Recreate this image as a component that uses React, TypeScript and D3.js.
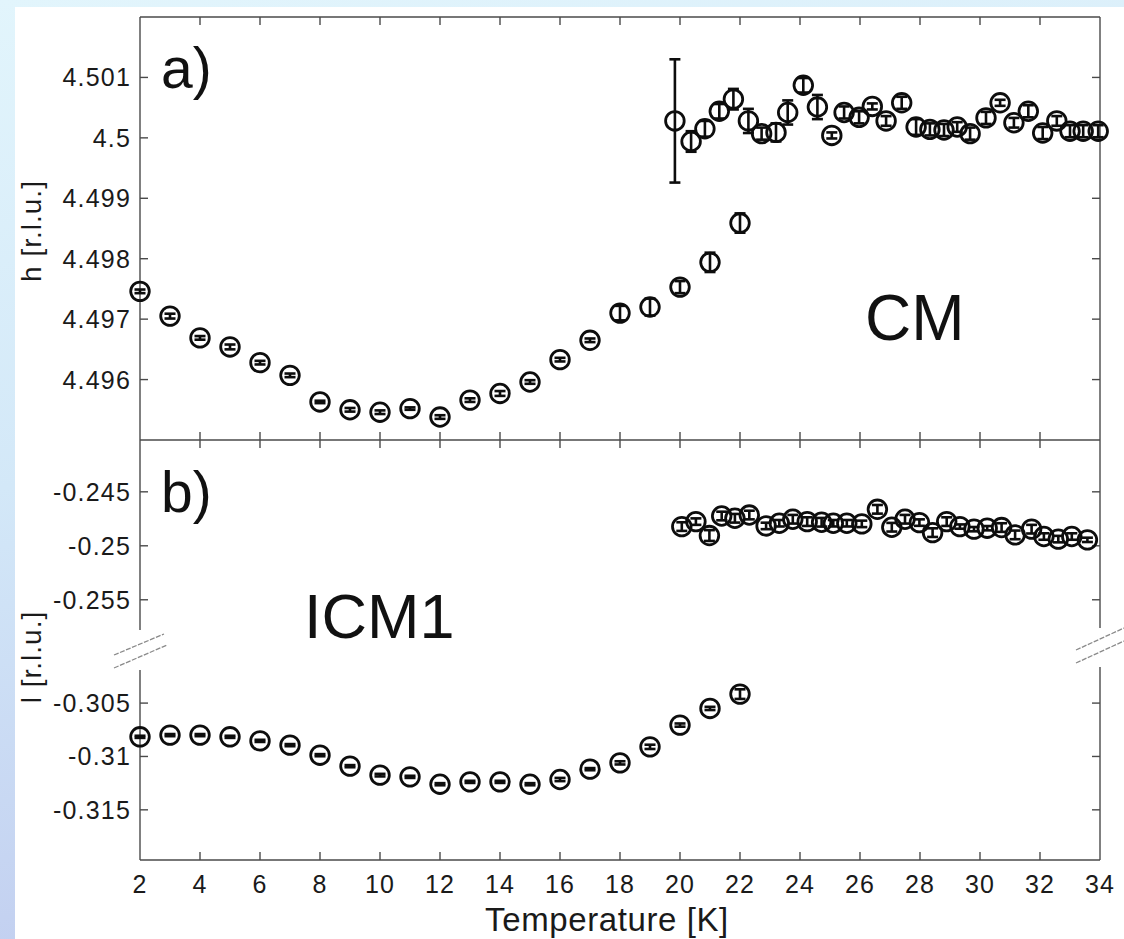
import React from "react";
import * as d3 from "d3";

// ---------- data ----------
const tIcm = [2, 3, 4, 5, 6, 7, 8, 9, 10, 11, 12, 13, 14, 15, 16, 17, 18, 19, 20, 21, 22];
const hIcm = [4.49746, 4.49705, 4.49669, 4.49654, 4.49628, 4.49607, 4.49563, 4.4955, 4.49546, 4.49552, 4.49538,
  4.49566, 4.49577, 4.49596, 4.49633, 4.49665, 4.4971, 4.4972, 4.49753, 4.49794, 4.49859];
const hIcmErr = [0.00003, 0.00004, 0.00003, 0.00004, 0.00003, 0.00003, 0.00002, 0.00003, 0.00003, 0.00002, 0.00003,
  0.00003, 0.00004, 0.00003, 0.00003, 0.00003, 0.00012, 0.00014, 0.0001, 0.00016, 0.00016];

const tCmH = [19.83, 20.37, 20.83, 21.31, 21.78, 22.28, 22.72, 23.2, 23.59, 24.11, 24.58, 25.06, 25.47, 25.97, 26.41,
  26.87, 27.39, 27.87, 28.33, 28.8, 29.24, 29.67, 30.2, 30.67, 31.13, 31.61, 32.09, 32.56, 33.0, 33.44, 33.94];
const hCm = [4.50028, 4.49994, 4.50015, 4.50044, 4.50064, 4.50028, 4.50007, 4.50009, 4.50042, 4.50087, 4.50051,
  4.50004, 4.50042, 4.50034, 4.50052, 4.50028, 4.50058, 4.50018, 4.50014, 4.50013, 4.50018, 4.50007, 4.50033,
  4.50058, 4.50025, 4.50044, 4.50008, 4.50028, 4.50011, 4.50011, 4.50011];
const hCmErr = [0.00102, 0.00017, 0.00013, 0.00012, 0.00017, 0.0002, 0.0001, 0.00015, 0.0002, 0.00012, 0.0002,
  0.00005, 0.0001, 0.0001, 0.00005, 0.00008, 0.0001, 0.00013, 0.0001, 0.0001, 0.00008, 0.0001, 0.0001, 0.00005,
  0.00008, 0.0001, 0.0001, 0.00008, 0.0001, 0.0001, 0.0001];

const lIcm = [-0.30816, -0.308, -0.308, -0.30816, -0.30854, -0.30894, -0.30988, -0.31091, -0.31175, -0.31191,
  -0.3126, -0.31238, -0.31238, -0.3126, -0.31216, -0.31119, -0.3106, -0.3091, -0.30706, -0.3055, -0.30416];
const lIcmErr = [0.0001, 0.0001, 0.0001, 0.0001, 0.0001, 0.0001, 0.0001, 0.0001, 0.00012, 0.0001, 0.0001,
  0.0001, 0.0001, 0.0001, 0.00015, 0.0001, 0.00015, 0.0002, 0.00015, 0.00015, 0.00045];

const tCmL = [20.06, 20.53, 20.98, 21.39, 21.83, 22.31, 22.87, 23.31, 23.76, 24.24, 24.72, 25.11, 25.56, 26.06,
  26.58, 27.06, 27.5, 27.98, 28.42, 28.89, 29.33, 29.8, 30.24, 30.72, 31.17, 31.72, 32.13, 32.61, 33.06, 33.58];
const lCm = [-0.24822, -0.24776, -0.24905, -0.24724, -0.24745, -0.24715, -0.24816, -0.24791, -0.24754, -0.24776,
  -0.24782, -0.24791, -0.24791, -0.24797, -0.24662, -0.24828, -0.24754, -0.24785, -0.24878, -0.24776, -0.24822,
  -0.24846, -0.24837, -0.24831, -0.24899, -0.24846, -0.24914, -0.24938, -0.24914, -0.24945];
const lCmErr = [0.0004, 0.0003, 0.0005, 0.0004, 0.0004, 0.0004, 0.0003, 0.0003, 0.0004, 0.0004, 0.0004, 0.0003,
  0.0003, 0.0003, 0.0004, 0.0004, 0.0004, 0.0003, 0.0004, 0.0004, 0.0002, 0.0002, 0.0002, 0.0004, 0.0004, 0.0004,
  0.0003, 0.0003, 0.0003, 0.0002];

const xTicks = [2, 4, 6, 8, 10, 12, 14, 16, 18, 20, 22, 24, 26, 28, 30, 32, 34];
const hTicks = [4.496, 4.497, 4.498, 4.499, 4.5, 4.501];
const lTicksUpper = [-0.255, -0.25, -0.245];
const lTicksLower = [-0.315, -0.31, -0.305];

// ---------- layout ----------
const W = 1124, H = 939;
const L = 140, R = 1100;
const TOP = 17, MID = 440, BOT = 860, BRK1 = 630, BRK2 = 670;
const FONT = "'Liberation Sans', Arial, Helvetica, sans-serif";
const AX = "#4a4a4a";
const INK = "#0d0d0d";

const x = d3.scaleLinear().domain([2, 34]).range([L, R]);
const yH = d3.scaleLinear().domain([4.495, 4.502]).range([MID, TOP]);
const yLU = d3.scaleLinear().domain([-0.2578, -0.2402]).range([BRK1, MID]);
const yLL = d3.scaleLinear().domain([-0.3197, -0.3019]).range([BOT, BRK2]);

const fmt = (v: number) => String(+v.toFixed(4));

function Points({ xs, ys, es, sy }: { xs: number[]; ys: number[]; es: number[]; sy: d3.ScaleLinear<number, number> }) {
  const cap = 5.5;
  return (
    <g stroke={INK} fill="none">
      {xs.map((t, i) => {
        const cx = x(t), cy = sy(ys[i]);
        const y1 = sy(ys[i] + es[i]), y2 = sy(ys[i] - es[i]);
        return (
          <g key={i}>
            <g strokeWidth={2.6}>
              <line x1={cx} x2={cx} y1={y1} y2={y2} />
              <line x1={cx - cap} x2={cx + cap} y1={y1} y2={y1} />
              <line x1={cx - cap} x2={cx + cap} y1={y2} y2={y2} />
            </g>
            <circle cx={cx} cy={cy} r={9.3} strokeWidth={2.8} />
          </g>
        );
      })}
    </g>
  );
}

export default function App() {
  const tick = 8;
  const inner = xTicks.slice(1, -1);
  return (
    <svg width={W} height={H} style={{ position: "absolute", left: 0, top: 0, display: "block" }}
      fontFamily={FONT}>
      <defs>
        <linearGradient id="bg" x1="0" y1="0" x2="0.2" y2="1">
          <stop offset="0" stopColor="#e2f5fc" />
          <stop offset="0.5" stopColor="#d3e8f8" />
          <stop offset="1" stopColor="#c2cff0" />
        </linearGradient>
      </defs>
      <rect x={0} y={0} width={W} height={H} fill="url(#bg)" />
      <rect x={15} y={7} width={W - 15} height={H - 7} fill="#fff" />

      {/* axes frame */}
      <g stroke={AX} strokeWidth={1.4} fill="none">
        <line x1={L} x2={R} y1={TOP} y2={TOP} />
        <line x1={L} x2={R} y1={MID} y2={MID} />
        <line x1={L} x2={R} y1={BOT} y2={BOT} />
        <line x1={L} x2={L} y1={TOP} y2={BRK1} />
        <line x1={L} x2={L} y1={BRK2} y2={BOT} />
        <line x1={R} x2={R} y1={TOP} y2={BRK1 - 2} />
        <line x1={R} x2={R} y1={BRK2 - 3} y2={BOT} />
        {inner.map((t) => (
          <g key={t}>
            <line x1={x(t)} x2={x(t)} y1={TOP} y2={TOP + tick} />
            <line x1={x(t)} x2={x(t)} y1={MID - tick} y2={MID + tick} />
            <line x1={x(t)} x2={x(t)} y1={BOT} y2={BOT - tick} />
          </g>
        ))}
        {hTicks.map((v) => (
          <g key={v}>
            <line x1={L} x2={L + tick} y1={yH(v)} y2={yH(v)} />
            <line x1={R} x2={R - tick} y1={yH(v)} y2={yH(v)} />
          </g>
        ))}
        {lTicksUpper.map((v) => (
          <g key={v}>
            <line x1={L} x2={L + tick} y1={yLU(v)} y2={yLU(v)} />
            <line x1={R} x2={R - tick} y1={yLU(v)} y2={yLU(v)} />
          </g>
        ))}
        {lTicksLower.map((v) => (
          <g key={v}>
            <line x1={L} x2={L + tick} y1={yLL(v)} y2={yLL(v)} />
            <line x1={R} x2={R - tick} y1={yLL(v)} y2={yLL(v)} />
          </g>
        ))}
      </g>

      {/* axis break marks */}
      <g stroke="#8a8a8a" strokeWidth={1.3} strokeDasharray="5 1.5" fill="none">
        <line x1={114} y1={655} x2={164} y2={634} />
        <line x1={114} y1={668} x2={167} y2={645} />
        <line x1={1076} y1={650} x2={1124} y2={628} />
        <line x1={1076} y1={663} x2={1124} y2={641} />
      </g>

      {/* tick labels */}
      <g fontSize={25} fill="#1a1a1a" letterSpacing={1.2}>
        {hTicks.map((v) => (
          <text key={v} x={L - 9} y={yH(v)} textAnchor="end" dominantBaseline="central">{fmt(v)}</text>
        ))}
        {lTicksUpper.map((v) => (
          <text key={v} x={L - 9} y={yLU(v)} textAnchor="end" dominantBaseline="central">{fmt(v)}</text>
        ))}
        {lTicksLower.map((v) => (
          <text key={v} x={L - 9} y={yLL(v)} textAnchor="end" dominantBaseline="central">{fmt(v)}</text>
        ))}
        {xTicks.map((t) => (
          <text key={t} x={x(t)} y={893} textAnchor="middle">{t}</text>
        ))}
      </g>

      {/* axis titles */}
      <text x={607} y={931} textAnchor="middle" fontSize={33} fill="#1a1a1a" letterSpacing={0.6}>Temperature [K]</text>
      <text transform="translate(41,231) rotate(-90)" textAnchor="middle" fontSize={28} fill="#1a1a1a" letterSpacing={1}>h [r.l.u.]</text>
      <text transform="translate(41,657) rotate(-90)" textAnchor="middle" fontSize={28} fill="#1a1a1a" letterSpacing={1}>l [r.l.u.]</text>

      {/* panel annotations */}
      <text x={161} y={88} fontSize={57} fill="#111">a)</text>
      <text x={161} y={512} fontSize={57} fill="#111">b)</text>
      <text x={865} y={340} fontSize={64} fill="#111">CM</text>
      <text x={304} y={638} fontSize={63} fill="#111">ICM1</text>

      {/* data */}
      <Points xs={tIcm} ys={hIcm} es={hIcmErr} sy={yH} />
      <Points xs={tCmH} ys={hCm} es={hCmErr} sy={yH} />
      <Points xs={tIcm} ys={lIcm} es={lIcmErr} sy={yLL} />
      <Points xs={tCmL} ys={lCm} es={lCmErr} sy={yLU} />
    </svg>
  );
}
